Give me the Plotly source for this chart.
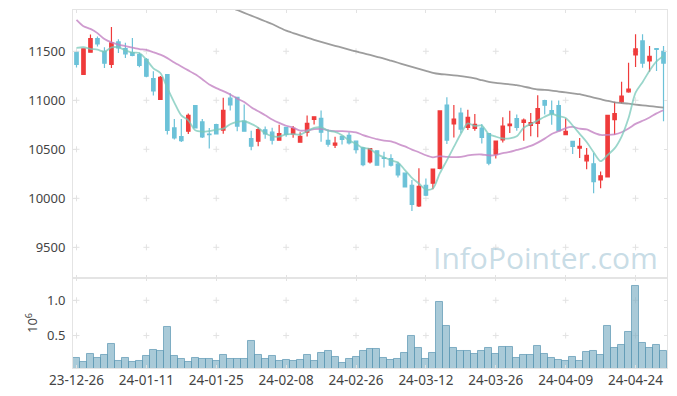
import plotly.graph_objects as go

dates = ["23-12-26","23-12-27","23-12-28","24-01-02","24-01-03","24-01-04","24-01-05","24-01-08","24-01-09","24-01-10",
         "24-01-11","24-01-12","24-01-15","24-01-16","24-01-17","24-01-18","24-01-19","24-01-22","24-01-23","24-01-24",
         "24-01-25","24-01-26","24-01-29","24-01-30","24-01-31","24-02-01","24-02-02","24-02-05","24-02-06","24-02-07",
         "24-02-08","24-02-13","24-02-14","24-02-15","24-02-16","24-02-19","24-02-20","24-02-21","24-02-22","24-02-23",
         "24-02-26","24-02-27","24-02-28","24-02-29","24-03-04","24-03-05","24-03-06","24-03-07","24-03-08","24-03-11",
         "24-03-12","24-03-13","24-03-14","24-03-15","24-03-18","24-03-19","24-03-20","24-03-21","24-03-22","24-03-25",
         "24-03-26","24-03-27","24-03-28","24-03-29","24-04-01","24-04-02","24-04-03","24-04-04","24-04-05","24-04-08",
         "24-04-09","24-04-11","24-04-12","24-04-15","24-04-16","24-04-17","24-04-18","24-04-19","24-04-22","24-04-23",
         "24-04-24","24-04-25","24-04-26","24-04-29","24-04-30"]

open_ = [11490,11265,11490,11630,11500,11365,11595,11527,11486,11466,
         11418,11221,11010,11262,10718,10630,10684,10946,10779,10655,
         10752,10696,11021,11031,10788,10610,10583,10699,10675,10593,
         10723,10658,10572,10675,10805,10815,10590,10542,10631,10641,
         10583,10514,10372,10485,10412,10406,10348,10256,10133,9922,
         10133,10154,10304,10952,10758,10870,10724,10713,10717,10659,
         10450,10597,10740,10813,10775,10745,10765,10998,10895,10946,
         10649,10581,10512,10382,10352,10187,10218,10803,10984,11086,
         11462,11606,11401,11527,11500]
high = [11495,11530,11670,11650,11540,11748,11622,11588,11636,11486,
        11432,11296,11248,11265,10810,10810,10864,10950,10810,10718,
        10760,11027,11072,11035,10956,10689,10726,10733,10720,10750,
        10726,10737,10675,10846,10835,10897,10702,10627,10635,10675,
        10590,10525,10510,10490,10474,10450,10372,10263,10188,10307,
        10201,10300,10894,11031,10952,10925,10904,10860,10758,10662,
        10588,10826,10894,10854,10813,10871,11052,11005,10998,10998,
        10813,10584,10615,10512,10461,10273,10850,10984,11189,11384,
        11674,11674,11555,11531,11555]
low = [11335,11260,11485,11548,11330,11330,11483,11432,11449,11337,
       11235,11050,11003,10650,10599,10575,10657,10711,10616,10507,
       10650,10658,10897,10685,10680,10490,10531,10607,10548,10590,
       10627,10617,10570,10631,10754,10576,10525,10514,10548,10548,
       10456,10326,10355,10335,10314,10324,10212,10109,9870,9911,
       10024,10092,10297,10553,10621,10666,10696,10689,10560,10338,
       10406,10570,10666,10690,10587,10632,10622,10854,10751,10683,
       10642,10451,10410,10297,10051,10102,10211,10649,10970,11076,
       11339,11333,11292,11298,10786]
close = [11365,11525,11630,11575,11378,11585,11534,11473,11459,11357,
         11245,11095,11235,10694,10616,10589,10847,10718,10626,10650,
         10657,10897,10952,10737,10685,10531,10702,10658,10593,10661,
         10651,10713,10631,10764,10832,10675,10552,10562,10600,10566,
         10497,10343,10508,10338,10408,10338,10239,10116,9939,10123,
         10031,10297,10891,10594,10809,10706,10826,10754,10621,10358,
         10584,10737,10758,10724,10799,10772,10916,10950,10861,10690,
         10683,10529,10529,10437,10170,10229,10847,10864,11042,11114,
         11524,11380,11449,11520,11380]

ma5 = [11534,11541,11524,11517,11495,11539,11540,11509,11486,11482,
       11414,11326,11278,11125,10977,10846,10796,10693,10679,10686,
       10700,10710,10756,10779,10786,10760,10721,10663,10634,10629,
       10653,10655,10650,10684,10718,10723,10691,10677,10644,10591,
       10555,10514,10503,10450,10419,10387,10366,10288,10208,10151,
       10090,10101,10256,10387,10524,10659,10765,10738,10743,10653,
       10629,10611,10612,10632,10720,10758,10794,10832,10860,10838,
       10820,10743,10658,10574,10470,10379,10442,10509,10630,10819,
       11078,11185,11302,11397,11451]
ma20 = [11820,11755,11728,11685,11624,11590,11568,11553,11537,11522,
        11513,11490,11465,11430,11385,11345,11305,11265,11215,11160,
        11124,11093,11059,11017,10983,10930,10888,10848,10804,10769,
        10740,10721,10690,10694,10705,10709,10694,10686,10685,10681,
        10673,10645,10623,10603,10589,10580,10556,10529,10497,10470,
        10439,10418,10431,10422,10421,10423,10437,10446,10447,10437,
        10441,10461,10473,10493,10512,10534,10568,10609,10656,10684,
        10717,10728,10710,10702,10670,10646,10647,10653,10674,10712,
        10759,10791,10825,10866,10898]
ma120 = [None]*21 + [11985,11950,11921,11892,11864,11835,11806,11778,11743,
        11710,11686,11663,11640,11617,11595,11575,11556,11537,11517,
        11498,11480,11462,11443,11425,11404,11383,11362,11341,11320,
        11300,11280,11268,11262,11255,11246,11237,11223,11205,11188,
        11177,11170,11163,11154,11140,11124,11110,11106,11099,11089,
        11080,11071,11062,11045,11028,11011,10994,10979,10972,10965,
        10956,10948,10941,10933,10925]

volume = [180000,126000,235000,180000,220000,377000,140000,180000,126000,140000,
          207000,292000,278000,618000,207000,164000,126000,180000,164000,164000,
          140000,220000,164000,164000,164000,420000,220000,164000,207000,140000,
          155000,140000,155000,220000,140000,250000,278000,193000,108000,164000,
          193000,278000,306000,306000,180000,155000,164000,250000,490000,320000,
          164000,250000,970000,632000,320000,278000,278000,235000,278000,320000,
          235000,334000,334000,180000,220000,220000,349000,235000,180000,155000,
          140000,193000,140000,264000,278000,220000,632000,320000,363000,547000,
          1202000,390000,320000,363000,278000]

price_ticks = [9500, 10000, 10500, 11000, 11500]
price_tick_text = ["9500", "10000", "10500", "11000", "11500"]
vol_ticks = [500000, 1000000]
vol_tick_text = ["0.5", "1.0"]
tick_dates = dates[::10]

RED = "#ef3b3b"
BLUE = "#6cc2d8"
GRID = "#e2e2e2"
AX = "#e4e4e4"
FONT = dict(family="Noto Sans, Open Sans, sans-serif", size=13, color="#444")

fig = go.Figure()

fig.add_trace(go.Candlestick(
    x=dates, open=open_, high=high, low=low, close=close,
    increasing=dict(line=dict(color=RED, width=1.2), fillcolor=RED),
    decreasing=dict(line=dict(color=BLUE, width=1.2), fillcolor=BLUE),
    whiskerwidth=0, xaxis="x", yaxis="y", showlegend=False))

fig.add_trace(go.Scatter(x=dates, y=ma120, mode="lines",
    line=dict(color="rgba(140,140,140,0.85)", width=1.8, shape="spline", smoothing=0.6),
    xaxis="x", yaxis="y", showlegend=False))
fig.add_trace(go.Scatter(x=dates, y=ma20, mode="lines",
    line=dict(color="rgba(195,130,195,0.8)", width=1.8, shape="spline", smoothing=0.6),
    xaxis="x", yaxis="y", showlegend=False))
fig.add_trace(go.Scatter(x=dates, y=ma5, mode="lines",
    line=dict(color="rgba(120,200,185,0.75)", width=1.8, shape="spline", smoothing=0.8),
    xaxis="x", yaxis="y", showlegend=False))

fig.add_trace(go.Bar(x=dates, y=volume, marker=dict(color="rgba(125,175,196,0.66)",
    line=dict(color="rgba(90,150,178,0.7)", width=1)), xaxis="x2", yaxis="y2", showlegend=False))

# grid crosses drawn beneath the data
shapes = []
for xr, yr, yvals in (("x", "y", price_ticks), ("x2", "y2", vol_ticks)):
    for d in tick_dates:
        xi = dates.index(d)
        for v in yvals:
            shapes.append(dict(type="line", layer="below", xref=xr, yref=yr,
                               xsizemode="pixel", xanchor=xi, x0=-3, x1=3, y0=v, y1=v,
                               line=dict(color=GRID, width=1)))
            shapes.append(dict(type="line", layer="below", xref=xr, yref=yr,
                               ysizemode="pixel", yanchor=v, y0=-3, y1=3, x0=xi, x1=xi,
                               line=dict(color=GRID, width=1)))

common_x = dict(type="category", categoryorder="array", categoryarray=dates,
                range=[-0.5, len(dates) - 0.5], tickvals=tick_dates, ticks="inside", ticklen=3,
                tickcolor=GRID, showline=True, linecolor=AX, mirror="ticks", showgrid=False,
                zeroline=False, fixedrange=True, automargin=False)
fig.update_layout(
    width=677, height=396, margin=dict(l=73, r=10, t=10, b=28),
    paper_bgcolor="white", plot_bgcolor="white", font=FONT, bargap=0, shapes=shapes,
    xaxis=dict(common_x, anchor="y", showticklabels=False, rangeslider=dict(visible=False)),
    xaxis2=dict(common_x, anchor="y2", showticklabels=True, ticktext=tick_dates,
                tickfont=dict(size=13.5)),
    yaxis=dict(domain=[0.2514, 1], range=[9187, 11921], tickvals=price_ticks, ticktext=price_tick_text,
               ticks="inside", ticklen=3, tickcolor=GRID, showline=True, linecolor=AX,
               mirror="ticks", showgrid=False, zeroline=False, ticklabelstandoff=4, automargin=False),
    yaxis2=dict(domain=[0, 0.2514], range=[40000, 1316000], tickvals=vol_ticks, ticktext=vol_tick_text,
                ticks="inside", ticklen=3, tickcolor=GRID, showline=True, linecolor=AX,
                mirror="ticks", showgrid=False, zeroline=False, ticklabelstandoff=4, automargin=False,
                title=dict(text="10<sup>6</sup>", standoff=6, font=dict(size=13, color="#444"))),
    annotations=[dict(text="InfoPointer.com", xref="paper", yref="paper", x=0.988, y=0.31,
                      xanchor="right", yanchor="middle", showarrow=False,
                      font=dict(family="Open Sans, sans-serif", size=30, color="rgba(165,198,214,0.62)"))],
)

fig.write_html("out.html", config={"displayModeBar": False},
               post_script="document.body.style.margin='0';document.body.style.overflow='hidden';")
